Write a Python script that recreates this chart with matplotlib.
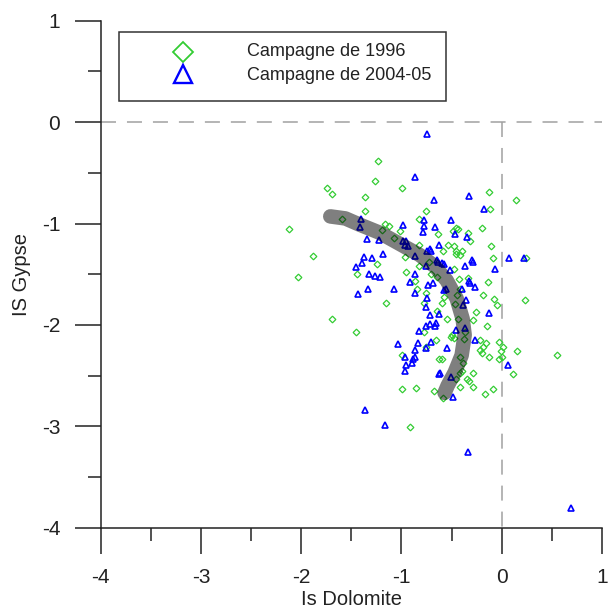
import matplotlib
matplotlib.use("Agg")
import matplotlib.pyplot as plt
from matplotlib.lines import Line2D
from matplotlib.patches import Rectangle
import numpy as np

plt.rcParams['font.family'] = ['Liberation Sans', 'DejaVu Sans']
plt.rcParams['lines.scale_dashes'] = False

# ---------------- data ----------------
series_labels = ["Campagne de 1996", "Campagne de 2004-05"]

x_1996 = [-1.23, -1.26, -1.74, -1.69, -0.99, -1.36, -0.76, -1.36, -1.59, -2.12,
          -1.16, -1.12, -0.83, -1.01, -1.07, -1.19, -0.64, -0.83, -0.96, -1.88,
          -2.03, -1.24, -0.83, -0.73, -0.95, -0.71, -1.44, -0.13, 0.14, -0.12,
          -0.46, -0.49, -0.44, -0.20, -0.34, -0.32, -0.54, -0.48, -0.46, -0.46,
          -0.42, -0.40, -0.59, -0.11, -0.09, 0.24, -0.48, -0.87, -0.85, -1.15,
          -0.76, -0.78, -0.65, -1.69, -1.45, -0.78, -0.66, -0.76, -0.99, -0.99,
          -0.86, -0.68, -0.14, -0.60, -0.58, -0.45, -0.42, -0.47, -0.19, -0.08,
          -0.05, 0.23, -0.26, -0.44, -0.55, -0.29, -0.15, -0.50, -0.51, -0.48,
          -0.37, -0.38, -0.22, -0.16, -0.19, -0.22, -0.20, -0.13, -0.03, 0.01,
          -0.01, -0.03, 0.00, 0.15, 0.55, -0.60, -0.42, -0.39, -0.42, -0.40,
          -0.29, 0.11, -0.35, -0.33, -0.46, -0.29, -0.09, -0.42, -0.59, -0.17,
          -0.92, -0.65, -0.34, -0.43, -0.63]
y_1996 = [-0.38, -0.58, -0.65, -0.71, -0.65, -0.74, -0.88, -0.88, -0.96, -1.05,
          -1.00, -1.02, -0.96, -1.07, -1.14, -1.06, -1.10, -1.21, -1.33, -1.32,
          -1.53, -1.40, -1.42, -1.38, -1.48, -1.50, -1.50, -0.69, -0.77, -0.86,
          -1.04, -1.07, -1.05, -1.04, -1.09, -1.17, -1.21, -1.22, -1.27, -1.30,
          -1.31, -1.27, -1.27, -1.22, -1.34, -1.34, -1.45, -1.57, -1.65, -1.78,
          -1.69, -1.78, -1.86, -1.94, -2.07, -2.07, -2.15, -2.22, -2.30, -2.63,
          -2.62, -2.65, -1.58, -1.78, -1.72, -1.71, -1.65, -1.79, -1.71, -1.74,
          -1.80, -1.75, -1.87, -1.94, -1.94, -1.95, -2.01, -2.10, -2.12, -2.13,
          -2.07, -2.14, -2.15, -2.18, -2.22, -2.25, -2.28, -2.32, -2.17, -2.22,
          -2.26, -2.34, -2.32, -2.26, -2.30, -2.34, -2.32, -2.38, -2.47, -2.45,
          -2.47, -2.48, -2.53, -2.55, -2.53, -2.61, -2.63, -2.61, -2.72, -2.68,
          -3.01, -1.53, -1.54, -1.55, -2.34]

x_2004 = [-0.75, -0.87, -0.68, -1.40, -1.41, -0.98, -0.78, -0.78, -0.79, -0.67,
          -1.34, -1.22, -0.98, -0.95, -0.93, -0.96, -0.72, -0.63, -1.18, -1.37,
          -1.29, -1.39, -1.45, -0.87, -0.76, -0.87, -1.32, -1.26, -1.21, -0.65,
          -0.33, -0.18, -0.51, -0.47, -0.35, -0.30, -0.29, -0.37, -0.07, 0.07,
          0.22, -0.75, -0.71, -0.64, -0.60, -0.58, -0.52, -0.92, -0.87, -0.74,
          -0.69, -1.43, -1.33, -1.07, -0.75, -0.76, -0.72, -0.63, -0.76, -0.72,
          -0.67, -0.66, -0.83, -1.03, -0.84, -0.71, -0.87, -0.96, -0.89, -0.87,
          -0.90, -0.95, -0.96, -0.63, -1.36, -1.16, -0.49, -0.34, 0.69, -0.58,
          -0.56, -0.40, -0.33, -0.32, -0.27, -0.36, -0.39, -0.13, -0.46, -0.37,
          -0.27, -0.55, -0.76, 0.06, -0.62, -0.51]
y_2004 = [-0.12, -0.54, -0.77, -0.96, -1.03, -1.01, -0.97, -1.02, -1.08, -1.03,
          -1.15, -1.16, -1.17, -1.17, -1.22, -1.21, -1.25, -1.21, -1.30, -1.33,
          -1.34, -1.39, -1.43, -1.32, -1.42, -1.50, -1.50, -1.52, -1.53, -1.36,
          -0.73, -0.86, -0.97, -1.10, -1.13, -1.36, -1.38, -1.42, -1.45, -1.34,
          -1.34, -1.27, -1.27, -1.38, -1.39, -1.40, -1.46, -1.58, -1.69, -1.61,
          -1.59, -1.70, -1.65, -1.65, -1.73, -1.82, -1.90, -1.89, -2.01, -1.99,
          -2.01, -1.98, -2.06, -2.19, -2.18, -2.17, -2.25, -2.32, -2.34, -2.32,
          -2.38, -2.40, -2.45, -2.48, -2.84, -2.99, -2.71, -3.25, -3.81, -1.66,
          -1.65, -1.65, -1.57, -1.59, -1.63, -1.75, -1.80, -1.88, -2.05, -2.03,
          -2.15, -2.23, -2.23, -2.40, -2.47, -2.51]

# hand-drawn trend band
arc_x = [-1.71, -1.56, -1.42, -1.22, -1.02, -0.82, -0.67, -0.55, -0.45, -0.39,
         -0.37, -0.40, -0.47, -0.54, -0.57]
arc_y = [-0.93, -0.95, -1.01, -1.09, -1.20, -1.31, -1.42, -1.56, -1.74, -1.94,
         -2.10, -2.30, -2.47, -2.60, -2.67]

x_ticks = [-4, -3, -2, -1, 0, 1]
y_ticks = [-4, -3, -2, -1, 0, 1]
x_label = "Is Dolomite"
y_label = "IS Gypse"

# ---------------- figure ----------------
W, H = 609, 615
fig = plt.figure(figsize=(W / 100, H / 100), dpi=100)
ax = fig.add_axes([100.7 / W, 1 - 527.7 / H, (602 - 100.7) / W, (527.7 - 20.7) / H])

green = '#33cc33'
blue = '#0000ff'
axis_col = '#222222'

ax.plot(x_1996, y_1996, linestyle='none', marker='D', ms=3.4, mfc='none',
        mec=green, mew=0.9, zorder=2, clip_on=False)
ax.plot(x_2004, y_2004, linestyle='none', marker='^', ms=4.2, mfc='none',
        mec=blue, mew=1.2, zorder=2, clip_on=False)

ax.plot(arc_x, arc_y, color='black', alpha=0.5, lw=10.5,
        solid_capstyle='round', solid_joinstyle='round', zorder=3)

dash = (10.8, 7.9)
ax.axhline(0, color='#a0a0a0', lw=1.1, dashes=dash, zorder=1)
ax.plot([0, 0], [0, -4], color='#a0a0a0', lw=1.1, dashes=dash, zorder=1)

ax.set_xlim(-4, 1)
ax.set_ylim(-4, 1)
ax.set_xticks(x_ticks)
ax.set_yticks(y_ticks)
ax.set_xticks(np.arange(-3.5, 1, 1.0), minor=True)
ax.set_yticks(np.arange(-3.5, 1, 1.0), minor=True)
ax.set_xticklabels([str(v) for v in x_ticks])
ax.set_yticklabels([str(v) for v in y_ticks])

for s in ['top', 'right']:
    ax.spines[s].set_visible(False)
for s in ['left', 'bottom']:
    ax.spines[s].set_color(axis_col)
    ax.spines[s].set_linewidth(1.1)

ax.tick_params(which='major', direction='out', length=18.7, width=1.1,
               color=axis_col, labelsize=15, pad=10.5, labelcolor='#222222')
ax.tick_params(which='minor', direction='out', length=9.4, width=1.1,
               color=axis_col)

ax.set_xlabel(x_label, fontsize=14.5, labelpad=2, color='#222222')
ax.set_ylabel(y_label, fontsize=14.5, labelpad=8, color='#222222')

# ---------------- legend box ----------------
lx0, lx1 = 119.3 / W, 446 / W
ly0, ly1 = 1 - 101 / H, 1 - 32.3 / H
fig.add_artist(Rectangle((lx0, ly0), lx1 - lx0, ly1 - ly0, transform=fig.transFigure,
                         facecolor='white', edgecolor='#333333', lw=1.1, zorder=5))
row_y = [1 - 52 / H, 1 - 75 / H]
mk_x = 183.3 / W
txt_x = 247.3 / W
fig.add_artist(Line2D([mk_x], [row_y[0] + 0.5 / H], transform=fig.transFigure,
                      marker='D', ms=10.5, mfc='none', mec=green, mew=1.3,
                      linestyle='none', zorder=6))
fig.add_artist(Line2D([mk_x], [row_y[1] + 1 / H], transform=fig.transFigure,
                      marker='^', ms=13, mfc='none', mec=blue, mew=1.7,
                      linestyle='none', zorder=6))
for yy, lab in zip(row_y, series_labels):
    fig.text(txt_x, yy, lab, fontsize=13, va='center', ha='left',
             color='#222222', zorder=6)

fig.savefig('out.png', dpi=100)
